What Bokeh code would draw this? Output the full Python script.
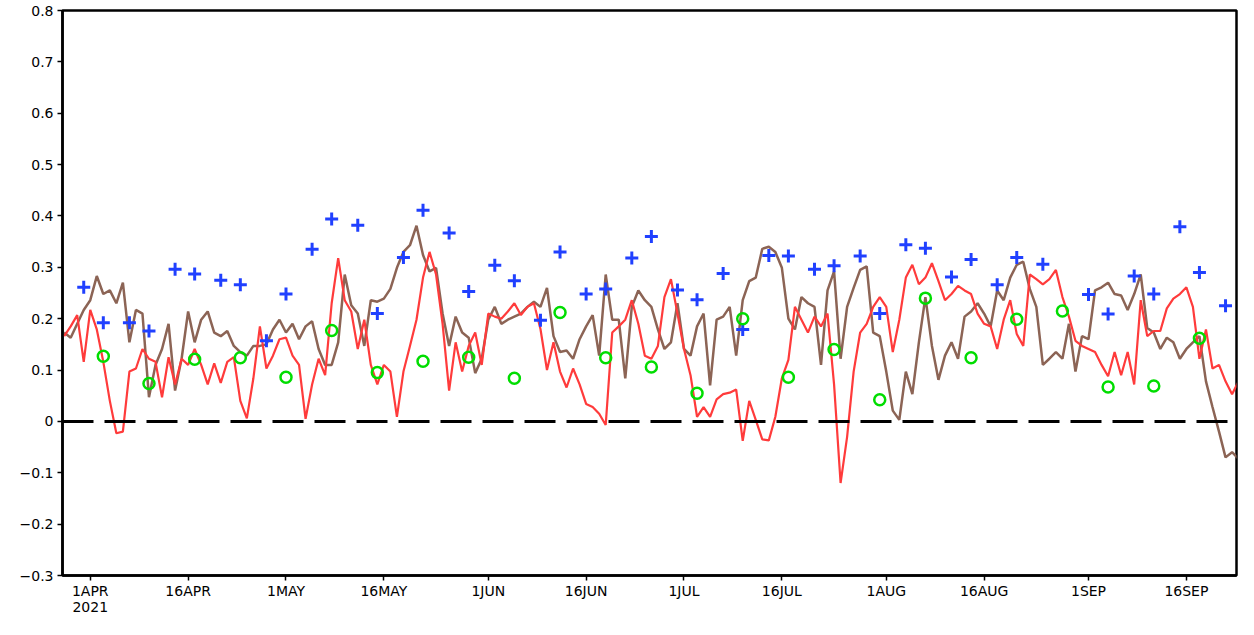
import pandas as pd
from bokeh.plotting import figure
from bokeh.models import Range1d, FixedTicker, Span
from bokeh.embed import file_html
from bokeh.resources import INLINE

# ---------------- data ----------------
line_start = "2021-03-28"
red_vals = [
    0.166, 0.185, 0.207, 0.116, 0.217, 0.179, 0.116, 0.04, -0.023, -0.02,
    0.097, 0.103, 0.141, 0.122, 0.116, 0.047, 0.125, 0.072, 0.122, 0.11,
    0.141, 0.11, 0.072, 0.113, 0.075, 0.116, 0.125, 0.04, 0.006, 0.084,
    0.185, 0.103, 0.128, 0.16, 0.163, 0.128, 0.11, 0.005, 0.072, 0.122,
    0.09, 0.23, 0.318, 0.236, 0.214, 0.141, 0.198, 0.11, 0.072, 0.11,
    0.097, 0.009, 0.097, 0.147, 0.198, 0.28, 0.33, 0.286, 0.19, 0.06,
    0.154, 0.097, 0.147, 0.173, 0.11, 0.21, 0.204, 0.2, 0.214, 0.23,
    0.207, 0.223, 0.23, 0.18, 0.1, 0.154, 0.097, 0.066, 0.103, 0.072,
    0.034, 0.028, 0.015, -0.007, 0.173, 0.185, 0.198, 0.236, 0.19, 0.128,
    0.122, 0.147, 0.242, 0.277, 0.21, 0.141, 0.09, 0.009, 0.028, 0.009,
    0.043, 0.053, 0.056, 0.062, -0.038, 0.04, 0.003, -0.035, -0.037, 0.009,
    0.084, 0.12, 0.223, 0.198, 0.173, 0.204, 0.185, 0.21, 0.072, -0.12,
    -0.03, 0.097, 0.173, 0.19, 0.223, 0.242, 0.223, 0.135, 0.198, 0.28,
    0.305, 0.267, 0.28, 0.308, 0.273, 0.236, 0.248, 0.264, 0.255, 0.248,
    0.21, 0.19, 0.185, 0.141, 0.198, 0.236, 0.17, 0.147, 0.286, 0.277,
    0.267, 0.277, 0.295, 0.242, 0.204, 0.157, 0.147, 0.141, 0.135, 0.11,
    0.088, 0.135, 0.09, 0.135, 0.072, 0.236, 0.166, 0.176, 0.176, 0.22,
    0.239, 0.248, 0.261, 0.223, 0.122, 0.179, 0.103, 0.11, 0.078, 0.053,
    0.078,
]
brown_vals = [
    0.173, 0.163, 0.19, 0.217, 0.236, 0.283, 0.248, 0.255, 0.23, 0.27,
    0.154, 0.217, 0.21, 0.047, 0.11, 0.141, 0.19, 0.06, 0.122, 0.214,
    0.154, 0.198, 0.214, 0.173, 0.166, 0.176, 0.147, 0.135, 0.128, 0.147,
    0.147, 0.15, 0.179, 0.198, 0.173, 0.19, 0.16, 0.185, 0.195, 0.141,
    0.11, 0.11, 0.154, 0.286, 0.226, 0.21, 0.147, 0.236, 0.233, 0.239,
    0.258, 0.299, 0.33, 0.343, 0.381, 0.324, 0.292, 0.299, 0.21, 0.147,
    0.204, 0.173, 0.163, 0.094, 0.122, 0.198, 0.223, 0.19, 0.198, 0.204,
    0.21, 0.223, 0.233, 0.223, 0.26, 0.166, 0.135, 0.138, 0.122, 0.16,
    0.185, 0.207, 0.128, 0.286, 0.198, 0.198, 0.084, 0.223, 0.255, 0.236,
    0.223, 0.179, 0.141, 0.154, 0.23, 0.141, 0.128, 0.185, 0.21, 0.07,
    0.198, 0.204, 0.223, 0.128, 0.236, 0.273, 0.28, 0.336, 0.34, 0.33,
    0.299, 0.2, 0.179, 0.242, 0.23, 0.223, 0.11, 0.255, 0.292, 0.122,
    0.223, 0.26, 0.295, 0.302, 0.173, 0.166, 0.097, 0.021, 0.003, 0.097,
    0.053, 0.154, 0.242, 0.147, 0.081, 0.128, 0.154, 0.122, 0.204, 0.214,
    0.23, 0.21, 0.185, 0.255, 0.236, 0.28, 0.305, 0.311, 0.258, 0.223,
    0.11, 0.122, 0.135, 0.122, 0.19, 0.097, 0.166, 0.16, 0.255, 0.261,
    0.27, 0.248, 0.245, 0.217, 0.248, 0.286, 0.182, 0.173, 0.141, 0.163,
    0.154, 0.122, 0.141, 0.154, 0.166, 0.078, 0.028, -0.02, -0.07, -0.06,
    -0.073,
]

blue_dates = [
    "2021-03-31", "2021-04-03", "2021-04-07", "2021-04-10", "2021-04-14",
    "2021-04-17", "2021-04-21", "2021-04-24", "2021-04-28", "2021-05-01",
    "2021-05-05", "2021-05-08", "2021-05-12", "2021-05-15", "2021-05-19",
    "2021-05-22", "2021-05-26", "2021-05-29", "2021-06-02", "2021-06-05",
    "2021-06-09", "2021-06-12", "2021-06-16", "2021-06-19", "2021-06-23",
    "2021-06-26", "2021-06-30", "2021-07-03", "2021-07-07", "2021-07-10",
    "2021-07-14", "2021-07-17", "2021-07-21", "2021-07-24", "2021-07-28",
    "2021-07-31", "2021-08-04", "2021-08-07", "2021-08-11", "2021-08-14",
    "2021-08-18", "2021-08-21", "2021-08-25", "2021-09-01", "2021-09-04",
    "2021-09-08", "2021-09-11", "2021-09-15", "2021-09-18", "2021-09-22",
]
blue_vals = [
    0.261, 0.192, 0.192, 0.176, 0.296, 0.287, 0.275, 0.266, 0.157, 0.248,
    0.335, 0.394, 0.382, 0.21, 0.319, 0.411, 0.367, 0.253, 0.304, 0.274,
    0.197, 0.33, 0.248, 0.258, 0.318, 0.36, 0.256, 0.237, 0.288, 0.179,
    0.323, 0.322, 0.296, 0.303, 0.322, 0.21, 0.344, 0.337, 0.281, 0.315,
    0.266, 0.319, 0.306, 0.247, 0.209, 0.283, 0.248, 0.379, 0.29, 0.225,
]

green_dates = [
    "2021-04-03", "2021-04-10", "2021-04-17", "2021-04-24", "2021-05-01",
    "2021-05-08", "2021-05-15", "2021-05-22", "2021-05-29", "2021-06-05",
    "2021-06-12", "2021-06-19", "2021-06-26", "2021-07-03", "2021-07-10",
    "2021-07-17", "2021-07-24", "2021-07-31", "2021-08-07", "2021-08-14",
    "2021-08-21", "2021-08-28", "2021-09-04", "2021-09-11", "2021-09-18",
]
green_vals = [
    0.127, 0.074, 0.121, 0.124, 0.086, 0.177, 0.095, 0.117, 0.125, 0.084,
    0.212, 0.124, 0.106, 0.055, 0.2, 0.086, 0.14, 0.042, 0.24, 0.124,
    0.199, 0.215, 0.067, 0.069, 0.162,
]

tick_dates = [
    "2021-04-01", "2021-04-16", "2021-05-01", "2021-05-16", "2021-06-01",
    "2021-06-16", "2021-07-01", "2021-07-16", "2021-08-01", "2021-08-16",
    "2021-09-01", "2021-09-16",
]
tick_labels = [
    "1APR\n2021", "16APR", "1MAY", "16MAY", "1JUN", "16JUN", "1JUL",
    "16JUL", "1AUG", "16AUG", "1SEP", "16SEP",
]
y_ticks = [-0.3, -0.2, -0.1, 0.0, 0.1, 0.2, 0.3, 0.4, 0.5, 0.6, 0.7, 0.8]
y_labels = ["\u22120.3", "\u22120.2", "\u22120.1", "0", "0.1", "0.2", "0.3",
            "0.4", "0.5", "0.6", "0.7", "0.8"]

# ---------------- helpers ----------------
ref = pd.Timestamp("2021-04-01")


def to_days(dates):
    return [(pd.Timestamp(d) - ref).days for d in dates]


line_days = to_days(pd.date_range(line_start, periods=len(red_vals), freq="D"))
blue_days = to_days(blue_dates)
green_days = to_days(green_dates)
tick_days = to_days(tick_dates)

FONT = "DejaVu Sans"

# ---------------- figure ----------------
p = figure(
    width=1238, height=619,
    output_backend="svg", toolbar_location=None,
    x_range=Range1d(-4.255, 175.68), y_range=Range1d(-0.3, 0.8),
    min_border_left=62, min_border_right=2, min_border_top=10, min_border_bottom=44,
)
p.grid.visible = False
p.background_fill_color = "white"
p.border_fill_color = "white"
p.outline_line_color = "black"
p.outline_line_width = 2.5

for ax in (p.xaxis[0], p.yaxis[0]):
    ax.axis_line_color = "black"
    ax.axis_line_width = 2.5
    ax.major_tick_line_color = "black"
    ax.major_tick_line_width = 1.5
    ax.major_tick_in = 0
    ax.major_tick_out = 5
    ax.minor_tick_line_color = None
    ax.major_label_text_font = FONT
    ax.major_label_text_font_size = "14px"
    ax.major_label_text_color = "black"

p.xaxis[0].ticker = FixedTicker(ticks=tick_days)
p.xaxis[0].major_label_overrides = {d: lab for d, lab in zip(tick_days, tick_labels)}
p.xaxis[0].major_label_standoff = 2
p.xaxis[0].major_label_text_line_height = 1.05

p.yaxis[0].ticker = FixedTicker(ticks=y_ticks)
p.yaxis[0].major_label_overrides = {v: lab for v, lab in zip(y_ticks, y_labels)}
p.yaxis[0].major_label_standoff = 4

# lines
p.line(line_days, brown_vals, line_color="#8c6455", line_width=2.5)
p.line(line_days, red_vals, line_color="#ff3b3b", line_width=2.2)

# zero line
p.add_layout(Span(location=0, dimension="width", line_color="black",
                  line_width=3, line_dash="31 11"))

# markers
p.scatter(blue_days, blue_vals, marker="cross", size=13, line_width=3,
          line_color="#2040ff")
p.scatter(green_days, green_vals, marker="circle", size=11, line_width=2.5,
          line_color="#00dd00", fill_color=None)

open("out.html", "w").write(file_html(p, INLINE))
